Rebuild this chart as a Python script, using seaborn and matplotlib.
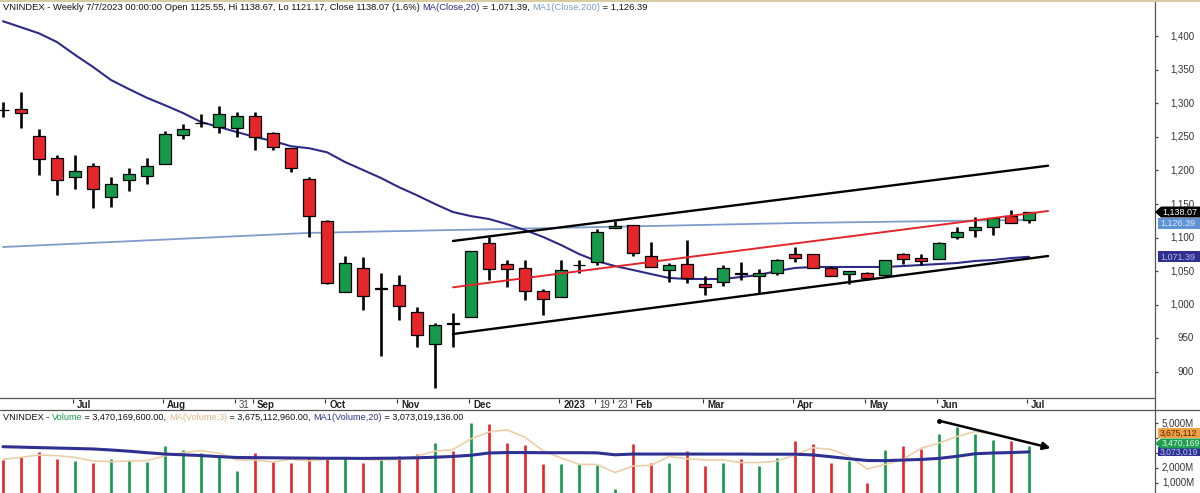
import numpy as np
import pandas as pd
import matplotlib
matplotlib.use("Agg")
import matplotlib.pyplot as plt
import seaborn as sns
from matplotlib.patches import Rectangle, Polygon
from matplotlib.lines import Line2D
from matplotlib.transforms import Affine2D

# ---------------- data (weekly bars) ----------------
opens = [1290.5, 1291.4, 1251, 1218.5, 1190, 1206.5, 1160.4, 1185.7, 1191.7, 1209.5,
         1252.7, 1270.5, 1264.6, 1263, 1281, 1255.7, 1233, 1187.2, 1124.7, 1019,
         1055, 1024, 1029.5, 989, 941.7, 972.6, 982, 1092, 1060.7, 1055,
         1020.5, 1011.6, 1058.5, 1063.7, 1114.3, 1118.8, 1072.6, 1051.8, 1060.7, 1031,
         1034, 1047, 1042.9, 1047.3, 1075.6, 1075.6, 1054.8, 1045.8, 1047.3, 1044.4,
         1075.6, 1069.6, 1068.2, 1101, 1111.3, 1115.8, 1132, 1125.55]
highs = [1302, 1316.7, 1261.6, 1223, 1223, 1211, 1190, 1203.6, 1218.5, 1258.6,
         1269, 1284, 1296, 1287, 1287, 1257, 1233.3, 1190, 1126, 1072.6,
         1071, 1047, 1044, 997, 973, 988, 1080, 1101, 1066.7, 1066.7,
         1023.5, 1066.7, 1066.7, 1112.8, 1124.7, 1118.8, 1093.5, 1062, 1096.4, 1042.9,
         1059.2, 1063.7, 1053.3, 1068, 1086, 1075.6, 1057.7, 1050.3, 1048.8, 1066.7,
         1077, 1075.6, 1093.5, 1115.8, 1130.6, 1130.6, 1141, 1138.67]
lows = [1280, 1263, 1193, 1163, 1172, 1144, 1145.5, 1169, 1180, 1209.5,
        1246.7, 1264.6, 1255.7, 1249.7, 1230, 1230, 1197.6, 1101, 1031, 1019,
        992, 924, 977, 937, 876, 937, 982, 1037, 1026.5, 1007,
        985, 1011.6, 1047, 1059.2, 1114.3, 1072.6, 1056, 1034, 1032.4, 1014.6,
        1028, 1037, 1017.6, 1044, 1063.7, 1054.8, 1042.9, 1031, 1037, 1042.9,
        1060.7, 1059.2, 1068.2, 1098, 1101, 1104, 1121.7, 1121.17]
closes = [1290, 1285.4, 1217, 1185.7, 1199, 1172, 1180, 1194.6, 1206.5, 1254,
          1261.6, 1270.9, 1284, 1281, 1249.7, 1235, 1203.6, 1132, 1032.4, 1062,
          1013, 1024.5, 998, 955, 970, 972, 1080, 1053, 1053, 1020.5,
          1008.6, 1052, 1059.2, 1108.3, 1117.3, 1077, 1056, 1059.2, 1039.9, 1026.5,
          1054.8, 1046.5, 1047.3, 1066.7, 1069.6, 1054.8, 1042.9, 1050.3, 1040, 1066.7,
          1068.2, 1065.2, 1092, 1108.3, 1115.8, 1129.2, 1121.7, 1138.07]
ma20 = [1422, 1413, 1404, 1391, 1372, 1354, 1334.5, 1321, 1308, 1297,
        1285.4, 1272, 1264.6, 1257, 1249.7, 1243.8, 1236, 1233, 1227, 1212.5,
        1200.6, 1188.7, 1175, 1163, 1150, 1138, 1132, 1127.7, 1120, 1111.3,
        1101, 1089, 1075.6, 1065, 1057.7, 1051.8, 1045.8, 1040, 1038.4, 1038.4,
        1038.4, 1041.4, 1044.4, 1050.3, 1054.8, 1056.3, 1056.3, 1056.3, 1056.3, 1056.3,
        1057.7, 1059.2, 1060.7, 1062.2, 1065.2, 1066.7, 1069.6, 1071.39]
ma200 = [1086.0, 1087.2, 1088.5, 1089.7, 1090.9, 1092.2, 1093.4, 1094.6, 1095.9, 1097.1,
         1098.4, 1099.6, 1100.8, 1102.1, 1103.3, 1104.5, 1105.8, 1107.0, 1107.5, 1108.1,
         1108.6, 1109.2, 1109.7, 1110.2, 1110.8, 1111.3, 1111.8, 1112.4, 1112.9, 1113.5,
         1114.0, 1114.6, 1115.1, 1115.7, 1116.2, 1116.8, 1117.3, 1117.8, 1118.4, 1118.9,
         1119.5, 1120.0, 1120.6, 1121.1, 1121.7, 1122.1, 1122.4, 1122.8, 1123.1, 1123.5,
         1123.9, 1124.2, 1124.6, 1124.9, 1125.3, 1125.7, 1126.0, 1126.39]
volume_m = [2533, 2756, 3089, 2578, 2489, 2356, 2578, 2533, 2422, 3467,
            3200, 2978, 2800, 1800, 2978, 2422, 2356, 2644, 2756, 2644,
            2311, 2644, 2800, 2911, 3644, 3133, 5022, 4933, 3689, 3533,
            2244, 2244, 2244, 2200, 600, 3578, 2356, 2356, 3133, 2133,
            2356, 2600, 2133, 2644, 3822, 3578, 2311, 2467, 1022, 3200,
            3467, 3267, 4267, 4756, 4267, 3867, 3822, 3470]
vol_ma3_m = [2578, 2711, 2867, 2822, 2711, 2470, 2422, 2467, 2489, 2807,
             3030, 3156, 2990, 2530, 2530, 2400, 2585, 2474, 2585, 2681,
             2570, 2530, 2585, 2785, 3120, 3230, 3950, 4400, 4548, 4050,
             3150, 2670, 2244, 2230, 1700, 2130, 2180, 2763, 2615, 2540,
             2540, 2363, 2363, 2459, 2866, 3348, 3237, 2785, 1933, 2230,
             2563, 3311, 3667, 4097, 4430, 4297, 3985, 3675]
vol_ma20_m = [3420, 3390, 3360, 3330, 3300, 3270, 3200, 3120, 3020, 2930,
              2880, 2830, 2760, 2700, 2690, 2680, 2670, 2660, 2650, 2650,
              2640, 2650, 2660, 2680, 2720, 2770, 2850, 3000, 3030, 3030,
              3020, 3020, 3020, 3010, 2880, 2930, 2930, 2930, 2930, 2930,
              2930, 2930, 2920, 2920, 2920, 2870, 2750, 2620, 2500, 2490,
              2530, 2570, 2640, 2780, 2950, 3000, 3030, 3073]
xtick_pos = [4, 9, 13, 14, 18, 22, 26, 31, 33, 34, 35, 39, 44, 48, 52, 57]
xtick_labels = ["Jul", "Aug", "31", "Sep", "Oct", "Nov", "Dec", "2023", "19", "23",
                "Feb", "Mar", "Apr", "May", "Jun", "Jul"]
xtick_bold = [True, True, False, True, True, True, True, True, False, False,
              True, True, True, True, True, True]
price_ticks = [900, 950, 1000, 1050, 1100, 1150, 1200, 1250, 1300, 1350, 1400]
vol_ticks = [1000, 2000, 3000, 4000, 5000]
vol_tick_labels = ["1,000M", "2,000M", "", "", "5,000M"]   # 3,000M / 4,000M hidden under tags
upper_x, upper_y = [25, 58.06], [1095, 1207]
lower_x, lower_y = [25, 58.06], [956.5, 1072.6]
mid_x, mid_y = [25, 58.06], [1026, 1139.6]
arrow_x, arrow_y = [52, 58.2], [5153, 3333]

# ---------------- style ----------------
sns.set_style("white")
plt.rcParams['font.family'] = ['Liberation Sans Narrow', 'Liberation Sans', 'DejaVu Sans']

RED = '#E5262B'
GREEN = '#15994A'
NAVY = '#2E2A85'
LBLUE = '#7E9CC9'
TAN = '#EBCFA8'
VNAVY = '#2E3192'

W, H = 1200, 493
fig = plt.figure(figsize=(W / 100, H / 100), dpi=100)
fig.patch.set_facecolor('white')
PX = Affine2D().scale(1.0 / W, -1.0 / H).translate(0, 1) + fig.transFigure


def add_axes_px(x0, y0, x1, y1):
    return fig.add_axes([x0 / W, 1 - y1 / H, (x1 - x0) / W, (y1 - y0) / H])


ax = add_axes_px(0, 0, 1155, 398)
axs = add_axes_px(0, 398, 1155, 410)
axv = add_axes_px(0, 410, 1155, 493)
XL = (-3 / 18, 1152 / 18)
for a in (ax, axs, axv):
    a.set_xlim(*XL)
    a.set_facecolor('white')
    for sp in a.spines.values():
        sp.set_visible(False)
    a.set_xticks([])
ax.set_ylim(861.3, 1453.6)
axv.set_ylim(333, 5867)
axs.set_ylim(0, 1)
axs.set_yticks([])

df = pd.DataFrame(dict(i=np.arange(len(closes)), o=opens, h=highs, l=lows, c=closes,
                       ma20=ma20, ma200=ma200, vol=volume_m, vma3=vol_ma3_m, vma20=vol_ma20_m))

# moving averages (behind candles)
sns.lineplot(data=df, x='i', y='ma200', ax=ax, color=LBLUE, lw=1.3, zorder=1.5, legend=False)
sns.lineplot(data=df, x='i', y='ma20', ax=ax, color=NAVY, lw=1.5, zorder=1.6, legend=False)

# candles
ax.vlines(df['i'], df['l'], df['h'], color='black', lw=1.9, zorder=2)
for r in df.itertuples():
    b = min(r.o, r.c)
    hgt = abs(r.c - r.o)
    ax.add_patch(Rectangle((r.i - 0.36, b), 0.72, hgt, fc=GREEN if r.c >= r.o else RED,
                           ec='black', lw=0.9, zorder=3))

# trend lines
ax.plot(upper_x, upper_y, color='black', lw=1.7, zorder=5)
ax.plot(lower_x, lower_y, color='black', lw=1.7, zorder=5)
ax.plot(mid_x, mid_y, color='#E3262B', lw=1.4, zorder=5)
ax.set_xlabel('')
ax.set_ylabel('')

# volume
vcols = [GREEN if c >= o else RED for o, c in zip(opens, closes)]
axv.vlines(df['i'], 0, df['vol'], colors=vcols, lw=1.9, zorder=2)
sns.lineplot(data=df, x='i', y='vma3', ax=axv, color=TAN, lw=1.2, zorder=3, legend=False)
sns.lineplot(data=df, x='i', y='vma20', ax=axv, color=VNAVY, lw=2.2, zorder=4, legend=False)
axv.annotate('', xy=(arrow_x[1], arrow_y[1]), xytext=(arrow_x[0], arrow_y[0]),
             arrowprops=dict(arrowstyle='-|>', color='black', lw=1.8, mutation_scale=11,
                             shrinkA=0, shrinkB=0), zorder=6)
axv.plot([arrow_x[0]], [arrow_y[0]], 'o', color='black', ms=2.5, zorder=6)
axv.set_xlabel('')
axv.set_ylabel('')

# right-hand ticks
for a, tks in ((ax, price_ticks), (axv, vol_ticks)):
    a.yaxis.tick_right()
    a.set_yticks(tks)
    a.tick_params(axis='y', direction='out', length=2.5, width=0.9, color='#444',
                  labelright=False, labelleft=False, pad=0)


def ypx(a, v):
    return H - a.transData.transform((0, v))[1]


for v in price_ticks:
    fig.text(1194 / W, 1 - ypx(ax, v) / H, f"{v:,}", ha='right', va='center',
             fontsize=7, color='#333', zorder=5)
for v, lab in zip(vol_ticks, vol_tick_labels):
    if lab:
        fig.text(1194 / W, 1 - ypx(axv, v) / H, lab, ha='right', va='center',
                 fontsize=7, color='#333', zorder=5)

# x strip labels
for p, lab, bold in zip(xtick_pos, xtick_labels, xtick_bold):
    axs.vlines(p - 0.12, 0.58, 0.92, color='#333', lw=0.8)
    axs.text(p + 0.12, 0.45, lab, ha='left', va='center', fontsize=7,
             fontweight='bold' if bold else 'normal', color='#222' if bold else '#444')

# frame lines
fig.add_artist(Line2D([1155, 1155], [0, 493], transform=PX, color='#555', lw=0.9, zorder=4))
fig.add_artist(Line2D([0, 1155], [398, 398], transform=PX, color='#555', lw=0.9, zorder=4))
fig.add_artist(Line2D([0, 1200], [410, 410], transform=PX, color='#555', lw=0.9, zorder=4))
fig.add_artist(Line2D([0, 1200], [0.6, 0.6], transform=PX, color='#D8CBA0', lw=1.5, zorder=4))


# value tags
def tag(y, text, fc, tc, arrow=False, h=11, fs=6.5):
    if arrow:
        pts = [(1155, y), (1161, y - h / 2), (1200, y - h / 2), (1200, y + h / 2), (1161, y + h / 2)]
        tx = 1162
    else:
        pts = [(1158, y - h / 2), (1200, y - h / 2), (1200, y + h / 2), (1158, y + h / 2)]
        tx = 1160
    fig.add_artist(Polygon(pts, closed=True, transform=PX, fc=fc, ec='none', zorder=6))
    fig.text(tx / W, 1 - y / H, text, ha='left', va='center', fontsize=fs, color=tc, zorder=7)


y_close = ypx(ax, closes[-1])
y_m200 = max(ypx(ax, ma200[-1]), y_close + 11)
y_m20 = ypx(ax, ma20[-1])
tag(y_m20, f"{ma20[-1]:,.2f}", '#2F2F8E', '#B8BCEB')
tag(y_m200, f"{ma200[-1]:,.2f}", '#5E93D6', '#DCE8F8')
tag(y_close, f"{closes[-1]:,.2f}", '#000000', '#FFFFFF', arrow=True)

y_vol = ypx(axv, volume_m[-1]) - 2.5
y_vma3 = min(ypx(axv, vol_ma3_m[-1]), y_vol - 10)
y_vma20 = max(ypx(axv, vol_ma20_m[-1]) - 1.5, y_vol + 8.5)
tag(y_vma3, "3,675,112", '#F2A043', '#4A2800', h=10, fs=6.2)
tag(y_vma20, "3,073,019", '#2E3192', '#B8C4F0', h=9, fs=6.2)
tag(y_vol, "3,470,169", '#1E9E4E', '#E0F5E6', arrow=True, h=10, fs=6.2)

# headers (multi-coloured)
renderer = fig.canvas.get_renderer()


def multitext(x, y, pieces, target_w, base=7.0):
    tmp = []
    cur = x
    for s, c in pieces:
        t = fig.text(cur / W, 1 - y / H, s, fontsize=base)
        cur += t.get_window_extent(renderer).width
        tmp.append(t)
    for t in tmp:
        t.remove()
    size = base * target_w / (cur - x)
    cur = x
    for s, c in pieces:
        t = fig.text(cur / W, 1 - y / H, s, fontsize=size, color=c, ha='left', va='center', zorder=8)
        cur += t.get_window_extent(renderer).width


multitext(3, 7, [("VNINDEX - Weekly 7/7/2023 00:00:00 Open 1125.55, Hi 1138.67, Lo 1121.17, "
                  "Close 1138.07 (1.6%) ", '#111'),
                 ("MA(Close,20)", '#2E2A85'), (" = 1,071.39, ", '#111'),
                 ("MA1(Close,200)", '#7E9CC9'), (" = 1,126.39", '#111')], 644)
multitext(3, 417, [("VNINDEX - ", '#111'), ("Volume", '#1E9A48'),
                   (" = 3,470,169,600.00, ", '#111'), ("MA(Volume,3)", '#E0B98A'),
                   (" = 3,675,112,960.00, ", '#111'), ("MA1(Volume,20)", '#2E3192'),
                   (" = 3,073,019,136.00", '#111')], 457)

fig.savefig("out.png", dpi=100, facecolor='white')
